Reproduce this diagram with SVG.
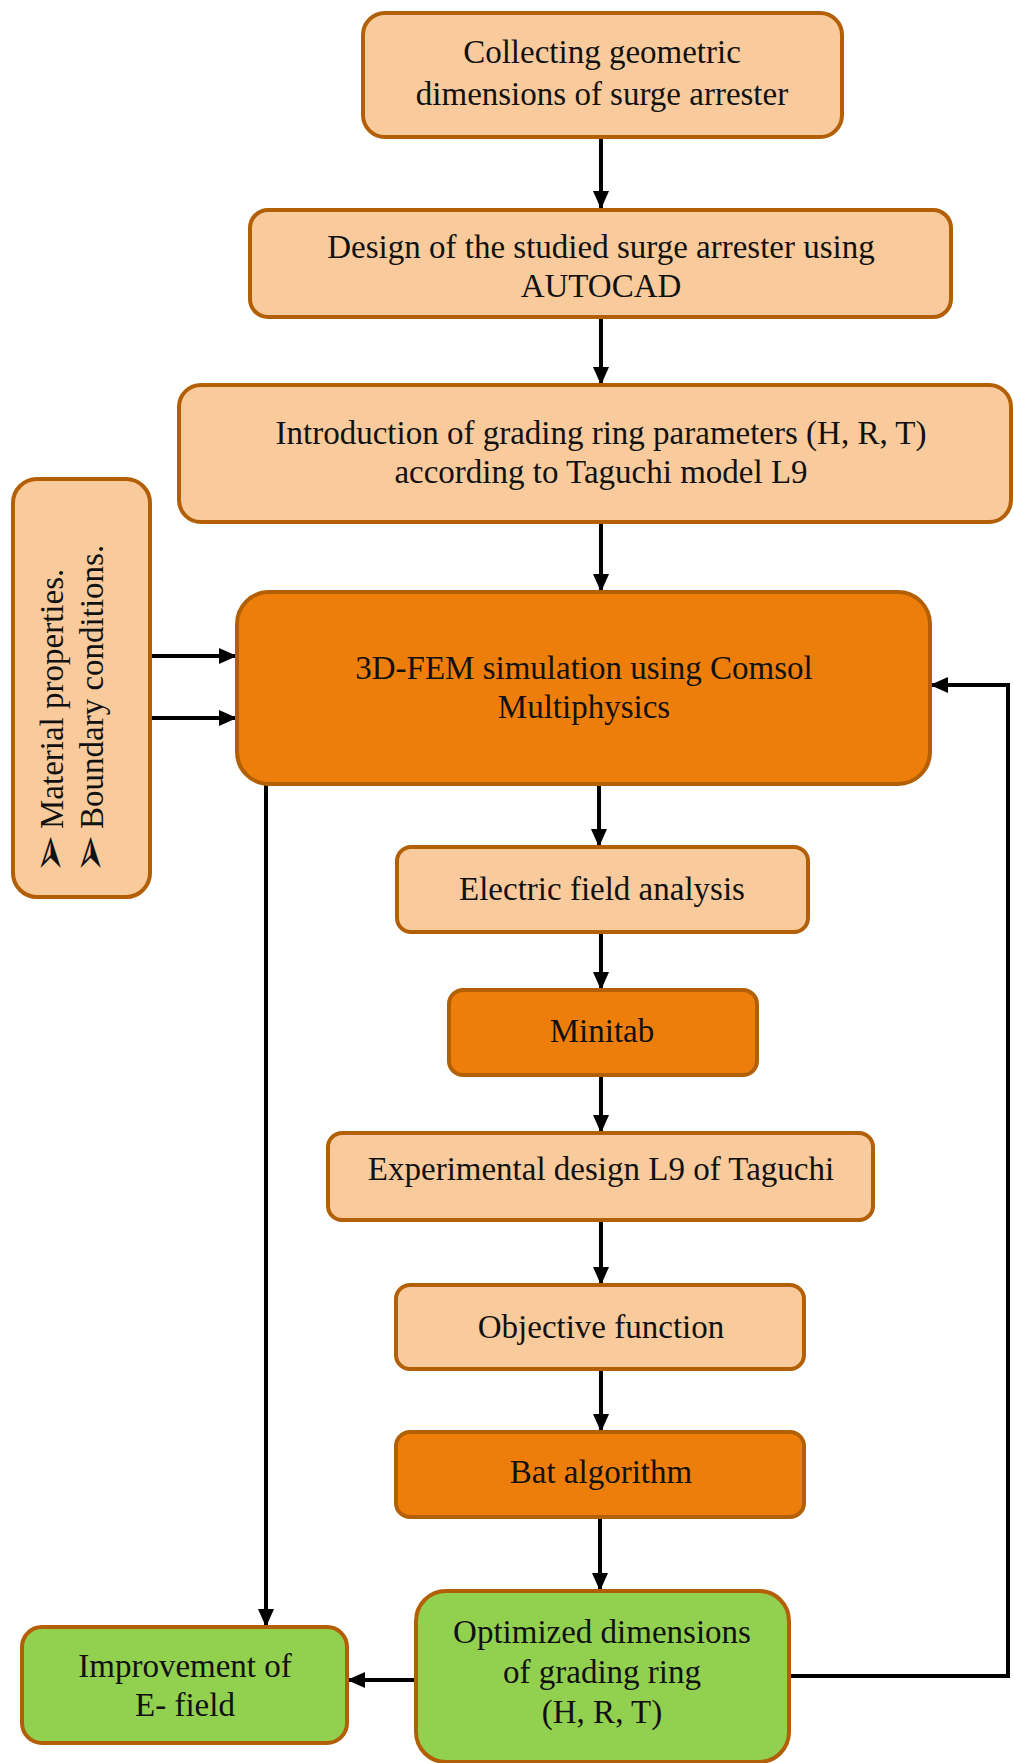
<svg xmlns="http://www.w3.org/2000/svg" width="1013" height="1763" viewBox="0 0 1013 1763">
<style>
  .box { stroke: #B35F06; stroke-width: 4; }
  .lt { fill: #F9CB9C; }
  .dk { fill: #EE7E0A; }
  .gr { fill: #92D050; }
  .t { font-family: "Liberation Serif", "DejaVu Serif", serif; font-size: 33px; fill: #111; text-anchor: middle; }
  .ts { font-family: "Liberation Serif", "DejaVu Serif", serif; font-size: 33px; fill: #111; }
  .bul { font-family: "DejaVu Sans", sans-serif; font-size: 46px; fill: #111; }
  .c { stroke: #000; stroke-width: 4; fill: none; }
</style>
<defs>
  <marker id="ah" markerUnits="userSpaceOnUse" markerWidth="18" markerHeight="16" refX="17" refY="8" orient="auto">
    <path d="M0,0 L18,8 L0,16 z" fill="#000"/>
  </marker>
</defs>
<rect width="1013" height="1763" fill="#fff"/>

<g id="connectors">
  <line class="c" x1="601" y1="137" x2="601" y2="208" marker-end="url(#ah)"/>
  <line class="c" x1="601" y1="317" x2="601" y2="384" marker-end="url(#ah)"/>
  <line class="c" x1="601" y1="522" x2="601" y2="591" marker-end="url(#ah)"/>
  <line class="c" x1="599" y1="785" x2="599" y2="846" marker-end="url(#ah)"/>
  <line class="c" x1="601" y1="932" x2="601" y2="989" marker-end="url(#ah)"/>
  <line class="c" x1="601" y1="1075" x2="601" y2="1132" marker-end="url(#ah)"/>
  <line class="c" x1="601" y1="1220" x2="601" y2="1284" marker-end="url(#ah)"/>
  <line class="c" x1="601" y1="1369" x2="601" y2="1431" marker-end="url(#ah)"/>
  <line class="c" x1="600" y1="1517" x2="600" y2="1590" marker-end="url(#ah)"/>
  <line class="c" x1="150" y1="656" x2="236" y2="656" marker-end="url(#ah)"/>
  <line class="c" x1="150" y1="718" x2="236" y2="718" marker-end="url(#ah)"/>
  <line class="c" x1="266" y1="785" x2="266" y2="1626" marker-end="url(#ah)"/>
  <line class="c" x1="416" y1="1680" x2="348" y2="1680" marker-end="url(#ah)"/>
  <polyline class="c" points="789,1676 1008,1676 1008,685 931,685" marker-end="url(#ah)"/>
</g>

<g id="n1">
  <rect class="box lt" x="363" y="13" width="479" height="124" rx="22"/>
  <text class="t" x="602" y="63">Collecting geometric</text>
  <text class="t" x="602" y="105">dimensions of surge arrester</text>
</g>
<g id="n2">
  <rect class="box lt" x="250" y="210" width="701" height="107" rx="18"/>
  <text class="t" x="601" y="258">Design of the studied surge arrester using</text>
  <text class="t" x="601" y="297">AUTOCAD</text>
</g>
<g id="n3">
  <rect class="box lt" x="179" y="385" width="832" height="137" rx="22"/>
  <text class="t" x="601" y="444">Introduction of grading ring parameters (H, R, T)</text>
  <text class="t" x="601" y="483">according to Taguchi model L9</text>
</g>
<g id="n_left">
  <rect class="box lt" x="13" y="479" width="137" height="418" rx="24"/>
  <text class="bul" transform="translate(65,873) rotate(-90)">➢</text>
  <text class="bul" transform="translate(105,873) rotate(-90)">➢</text>
  <text class="ts" transform="translate(63,829) rotate(-90)">Material properties.</text>
  <text class="ts" transform="translate(103,829) rotate(-90)">Boundary conditions.</text>
</g>
<g id="n4">
  <rect class="box dk" x="237" y="592" width="693" height="192" rx="32"/>
  <text class="t" x="584" y="679">3D-FEM simulation using Comsol</text>
  <text class="t" x="584" y="718">Multiphysics</text>
</g>
<g id="n5">
  <rect class="box lt" x="397" y="847" width="411" height="85" rx="14"/>
  <text class="t" x="602" y="900">Electric field analysis</text>
</g>
<g id="n6">
  <rect class="box dk" x="449" y="990" width="308" height="85" rx="14"/>
  <text class="t" x="602" y="1042">Minitab</text>
</g>
<g id="n7">
  <rect class="box lt" x="328" y="1133" width="545" height="87" rx="14"/>
  <text class="t" x="601" y="1180">Experimental design L9 of Taguchi</text>
</g>
<g id="n8">
  <rect class="box lt" x="396" y="1285" width="408" height="84" rx="14"/>
  <text class="t" x="601" y="1338">Objective function</text>
</g>
<g id="n9">
  <rect class="box dk" x="396" y="1432" width="408" height="85" rx="14"/>
  <text class="t" x="601" y="1483">Bat algorithm</text>
</g>
<g id="n10">
  <rect class="box gr" x="416" y="1591" width="373" height="171" rx="30"/>
  <text class="t" x="602" y="1643">Optimized dimensions</text>
  <text class="t" x="602" y="1683">of grading ring</text>
  <text class="t" x="602" y="1723">(H, R, T)</text>
</g>
<g id="n11">
  <rect class="box gr" x="22" y="1627" width="325" height="116" rx="20"/>
  <text class="t" x="185" y="1677">Improvement of</text>
  <text class="t" x="185" y="1716">E- field</text>
</g>
</svg>
